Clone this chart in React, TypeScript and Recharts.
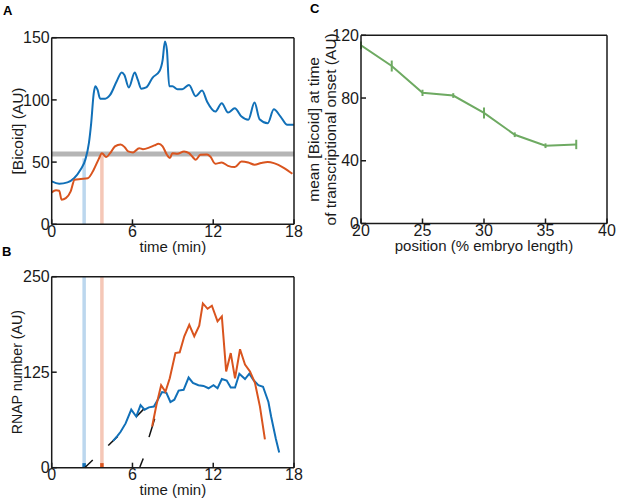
import React from 'react';
import { LineChart, Line, XAxis, YAxis, ReferenceLine, ErrorBar, Label } from 'recharts';

const FONT = '"Liberation Sans", Arial, sans-serif';
const BLUE = '#1170b8';
const RED = '#d9541e';
const BLUE_LIGHT = '#bcd7ee';
const RED_LIGHT = '#f5c7b7';
const GRAY = '#b5b5b5';
const GREEN = '#6eaa62';
const AXIS = '#1a1a1a';

// tick labels
const timeTicks = [0, 6, 12, 18];
const bicoidTicks = [0, 50, 100, 150];
const rnapTicks = [0, 125, 250];
const positionTicks = [20, 25, 30, 35, 40];
const onsetTicks = [0, 40, 80, 120];

// panel A: [time (min), Bicoid (AU)]
const bicoidBlue: [number, number][] = [
  [0, 34.5], [0.56, 32.6], [1.17, 33.7], [1.66, 37], [2.15, 44], [2.5, 52], [2.76, 65], [2.93, 81],
  [3.12, 105], [3.24, 111], [3.41, 108], [3.6, 101], [3.97, 101], [4.34, 104], [4.83, 115], [5.2, 122],
  [5.4, 120], [5.73, 110], [6.17, 122], [6.4, 116], [6.66, 109], [7.02, 110], [7.5, 118], [8.0, 123],
  [8.24, 132], [8.41, 147], [8.56, 140], [8.73, 111], [8.97, 111], [9.34, 108.6], [9.7, 108.6],
  [10.2, 112], [10.7, 103], [11.17, 107.5], [11.54, 98.7], [12.15, 90.6], [12.63, 97.3], [13.1, 89.8],
  [13.6, 93.3], [14.1, 86.6], [14.6, 84], [15.07, 97.9], [15.44, 84.5], [16.05, 81.3], [16.5, 92.5],
  [17.0, 86.6], [17.5, 80], [18, 80],
];
const bicoidRed: [number, number][] = [
  [0, 25.7], [0.32, 27.3], [0.56, 27], [0.73, 19.8], [1.05, 21], [1.41, 26.5], [1.7, 35.8], [2.15, 36.4],
  [2.68, 37], [3.12, 43.9], [3.49, 52.4], [3.73, 57.2], [4.05, 54], [4.34, 57.2], [4.7, 62.6], [5.12, 64.2],
  [5.44, 61.8], [5.68, 58.6], [6.05, 57.8], [6.5, 61.2], [6.78, 60.4], [7.27, 61.8], [7.63, 63.4],
  [7.93, 64.7], [8.24, 62.6], [8.56, 55.9], [8.78, 53.2], [8.97, 57.2], [9.34, 56.7], [9.83, 58.6],
  [10.2, 57.2], [10.44, 54.5], [10.7, 51.9], [11.05, 55.9], [11.54, 56.1], [11.78, 54.5], [12.15, 48.7],
  [12.63, 49.7], [13.1, 47], [13.6, 46], [14.1, 50.5], [14.6, 49.7], [15.07, 47.9], [15.56, 49.2],
  [16.05, 50], [16.5, 49.2], [17.27, 45.2], [17.88, 40.6],
];
const threshold = 56.5;
const onsetTimes = [2.41, 3.73];
const onsetLevels = [53, 56.5];

// panel B: [time (min), RNAP number (AU)]
const rnapBlue: [number, number][] = [
  [4.56, 35], [4.9, 42], [5.12, 47], [5.49, 58], [5.91, 76], [6.28, 67], [6.6, 82], [6.9, 76], [7.22, 79],
  [7.59, 80], [7.88, 89], [8.2, 99], [8.52, 98], [8.82, 86], [9.11, 89], [9.43, 101], [9.8, 102],
  [10.17, 118], [10.49, 111], [10.9, 108], [11.28, 107], [11.65, 104], [12.02, 108], [12.32, 104],
  [12.64, 116], [13.0, 114], [13.3, 105], [13.62, 105], [13.94, 123], [14.36, 116], [14.68, 123],
  [14.98, 115], [15.35, 108], [15.7, 106], [16.1, 86], [16.3, 67], [16.65, 38], [16.9, 20],
];
const rnapRed: [number, number][] = [
  [7.46, 54], [7.78, 82], [8.13, 108], [8.45, 99.5], [8.77, 117], [9.19, 150], [9.51, 151], [9.85, 172],
  [10.22, 187], [10.59, 172], [10.96, 186], [11.23, 215], [11.58, 208], [11.9, 212], [12.32, 191.5],
  [12.64, 198], [12.96, 126], [13.3, 150], [13.62, 117], [13.99, 155], [14.36, 135], [14.73, 126],
  [15.1, 111], [15.47, 80], [15.84, 37],
];
const onsetStub = 6;
// initial-rate fits: [t0, v0, t1, v1]
const fitSegments: [number, number, number, number][] = [
  [2.45, 0, 3.05, 10],
  [4.2, 29, 4.9, 41],
  [6.3, 67, 6.85, 77],
  [6.55, 1, 6.8, 12],
  [7.23, 40, 7.65, 64],
];

// panel C
const positions = [20, 22.5, 25, 27.5, 30, 32.5, 35, 37.5];
const meanBicoid = [113.6, 100.4, 83.3, 81.6, 70.5, 56.6, 49.6, 50.4];
const meanBicoidErr = [2.5, 3.5, 2, 1.5, 3.5, 1.5, 1.5, 3];

const toPoints = (pairs: [number, number][]) => pairs.map(([t, v]) => ({ t, v }));
const meanData = positions.map((p, i) => ({ t: p, v: meanBicoid[i], err: meanBicoidErr[i] }));

const tickStyle = { fontSize: 16, fill: AXIS, fontFamily: FONT, fontWeight: 400 };
const labelStyle = { fill: AXIS, stroke: 'none', fontFamily: FONT, fontWeight: 400 };

const VLabel = ({ viewBox, lines, xs, size }: any) => {
  const cy = viewBox.y + viewBox.height / 2;
  return (
    <g>
      {lines.map((s: string, i: number) => (
        <text
          key={i}
          x={xs[i]}
          y={cy}
          transform={`rotate(-90, ${xs[i]}, ${cy})`}
          textAnchor="middle"
          dominantBaseline="central"
          style={{ ...labelStyle, fontSize: size }}
        >
          {s}
        </text>
      ))}
    </g>
  );
};

const HLabel = ({ viewBox, text, dy, size }: any) => (
  <text x={viewBox.x + viewBox.width / 2} y={viewBox.y + dy} textAnchor="middle" style={{ ...labelStyle, fontSize: size }}>
    {text}
  </text>
);

// bottom/left axes carry the labels; top/right mirrored copies close the box
const Frame = ({ xDomain, yDomain, xTicks, yTicks, xLabel, xLabelDy, xSize, yLines, yXs, ySize, yWidth }: any) => [
  <XAxis
    key="xb"
    type="number"
    dataKey="t"
    domain={xDomain}
    ticks={xTicks}
    allowDataOverflow
    height={32}
    stroke={AXIS}
    strokeWidth={1.5}
    tickSize={-5}
    tickMargin={6}
    tick={tickStyle}
    interval={0}
  >
    <Label content={<HLabel text={xLabel} dy={xLabelDy} size={xSize} />} />
  </XAxis>,
  <XAxis
    key="xt"
    xAxisId="top"
    orientation="top"
    type="number"
    dataKey="t"
    domain={xDomain}
    ticks={xTicks}
    allowDataOverflow
    mirror
    height={20}
    stroke={AXIS}
    strokeWidth={1.5}
    tickSize={5}
    tick={false}
    interval={0}
  />,
  <YAxis
    key="yl"
    type="number"
    dataKey="v"
    domain={yDomain}
    ticks={yTicks}
    allowDataOverflow
    width={yWidth}
    stroke={AXIS}
    strokeWidth={1.5}
    tickSize={-5}
    tickMargin={7}
    tick={tickStyle}
    interval={0}
  >
    <Label content={<VLabel lines={yLines} xs={yXs} size={ySize} />} />
  </YAxis>,
  <YAxis
    key="yr"
    yAxisId="right"
    orientation="right"
    type="number"
    dataKey="v"
    domain={yDomain}
    ticks={yTicks}
    allowDataOverflow
    mirror
    width={20}
    stroke={AXIS}
    strokeWidth={1.5}
    tickSize={5}
    tick={false}
    interval={0}
  />,
];

// invisible series so the top/right axes get a domain
const Ghost = (data: any[]) => (
  <Line
    xAxisId="top"
    yAxisId="right"
    data={data}
    dataKey="v"
    stroke="none"
    dot={false}
    activeDot={false}
    legendType="none"
    isAnimationActive={false}
  />
);

const PanelLetter = ({ x, y, children }: any) => (
  <div style={{ position: 'absolute', left: x, top: y, fontFamily: FONT, fontWeight: 700, fontSize: 13, lineHeight: '13px' }}>
    {children}
  </div>
);

const App = () => (
  <div style={{ position: 'absolute', left: 0, top: 0, width: 617, height: 504, background: '#fff', overflow: 'hidden' }}>
    <div style={{ position: 'absolute', left: 0, top: 0 }}>
      <LineChart width={312} height={260} margin={{ top: 37.7, right: 18, left: 0, bottom: 3.7 }}>
        {Frame({ xDomain: [0, 18], yDomain: [0, 150], xTicks: timeTicks, yTicks: bicoidTicks, xLabel: 'time (min)', xLabelDy: 28, xSize: 15, yLines: ['[Bicoid] (AU)'], yXs: [17.5], ySize: 15.5, yWidth: 51.7 })}
        {Ghost(toPoints(bicoidBlue))}
        <ReferenceLine y={threshold} stroke={GRAY} strokeWidth={5} />
        <ReferenceLine segment={[{ x: onsetTimes[0], y: 0 }, { x: onsetTimes[0], y: onsetLevels[0] }]} stroke={BLUE_LIGHT} strokeWidth={3.5} />
        <ReferenceLine segment={[{ x: onsetTimes[1], y: 0 }, { x: onsetTimes[1], y: onsetLevels[1] }]} stroke={RED_LIGHT} strokeWidth={3.5} />
        <Line data={toPoints(bicoidBlue)} dataKey="v" type="monotone" stroke={BLUE} strokeWidth={2} dot={false} isAnimationActive={false} />
        <Line data={toPoints(bicoidRed)} dataKey="v" type="monotone" stroke={RED} strokeWidth={2} dot={false} isAnimationActive={false} />
      </LineChart>
    </div>
    <PanelLetter x={3} y={4}>A</PanelLetter>

    <div style={{ position: 'absolute', left: 0, top: 250 }}>
      <LineChart width={312} height={254} margin={{ top: 26.7, right: 18, left: 0, bottom: 4.3 }}>
        {Frame({ xDomain: [0, 18], yDomain: [0, 250], xTicks: timeTicks, yTicks: rnapTicks, xLabel: 'time (min)', xLabelDy: 27, xSize: 15, yLines: ['RNAP number (AU)'], yXs: [17.5], ySize: 14.2, yWidth: 51.7 })}
        {Ghost(toPoints(rnapBlue))}
        <ReferenceLine x={onsetTimes[0]} stroke={BLUE_LIGHT} strokeWidth={3.5} />
        <ReferenceLine x={onsetTimes[1]} stroke={RED_LIGHT} strokeWidth={3.5} />
        <ReferenceLine segment={[{ x: onsetTimes[0], y: 0 }, { x: onsetTimes[0], y: onsetStub }]} stroke={BLUE} strokeWidth={3.5} />
        <ReferenceLine segment={[{ x: onsetTimes[1], y: 0 }, { x: onsetTimes[1], y: onsetStub }]} stroke={RED} strokeWidth={3.5} />
        {fitSegments.map(([t0, v0, t1, v1], i) => (
          <ReferenceLine key={i} segment={[{ x: t0, y: v0 }, { x: t1, y: v1 }]} stroke="#111" strokeWidth={1.5} />
        ))}
        <Line data={toPoints(rnapBlue)} dataKey="v" type="linear" stroke={BLUE} strokeWidth={2} dot={false} isAnimationActive={false} />
        <Line data={toPoints(rnapRed)} dataKey="v" type="linear" stroke={RED} strokeWidth={2} dot={false} isAnimationActive={false} />
      </LineChart>
    </div>
    <PanelLetter x={2} y={245}>B</PanelLetter>

    <div style={{ position: 'absolute', left: 300, top: 0 }}>
      <LineChart width={317} height={260} margin={{ top: 35.3, right: 10, left: 0, bottom: 4.5 }}>
        {Frame({ xDomain: [20, 40], yDomain: [0, 120], xTicks: positionTicks, yTicks: onsetTicks, xLabel: 'position (% embryo length)', xLabelDy: 27, xSize: 15, yLines: ['mean [Bicoid] at time', 'of transcriptional onset (AU)'], yXs: [14, 31], ySize: 15.5, yWidth: 61 })}
        {Ghost(meanData)}
        <Line data={meanData} dataKey="v" type="linear" stroke={GREEN} strokeWidth={2} dot={false} isAnimationActive={false}>
          <ErrorBar dataKey="err" width={0} stroke={GREEN} strokeWidth={2} direction="y" />
        </Line>
      </LineChart>
    </div>
    <PanelLetter x={310} y={2}>C</PanelLetter>
  </div>
);

export default App;
